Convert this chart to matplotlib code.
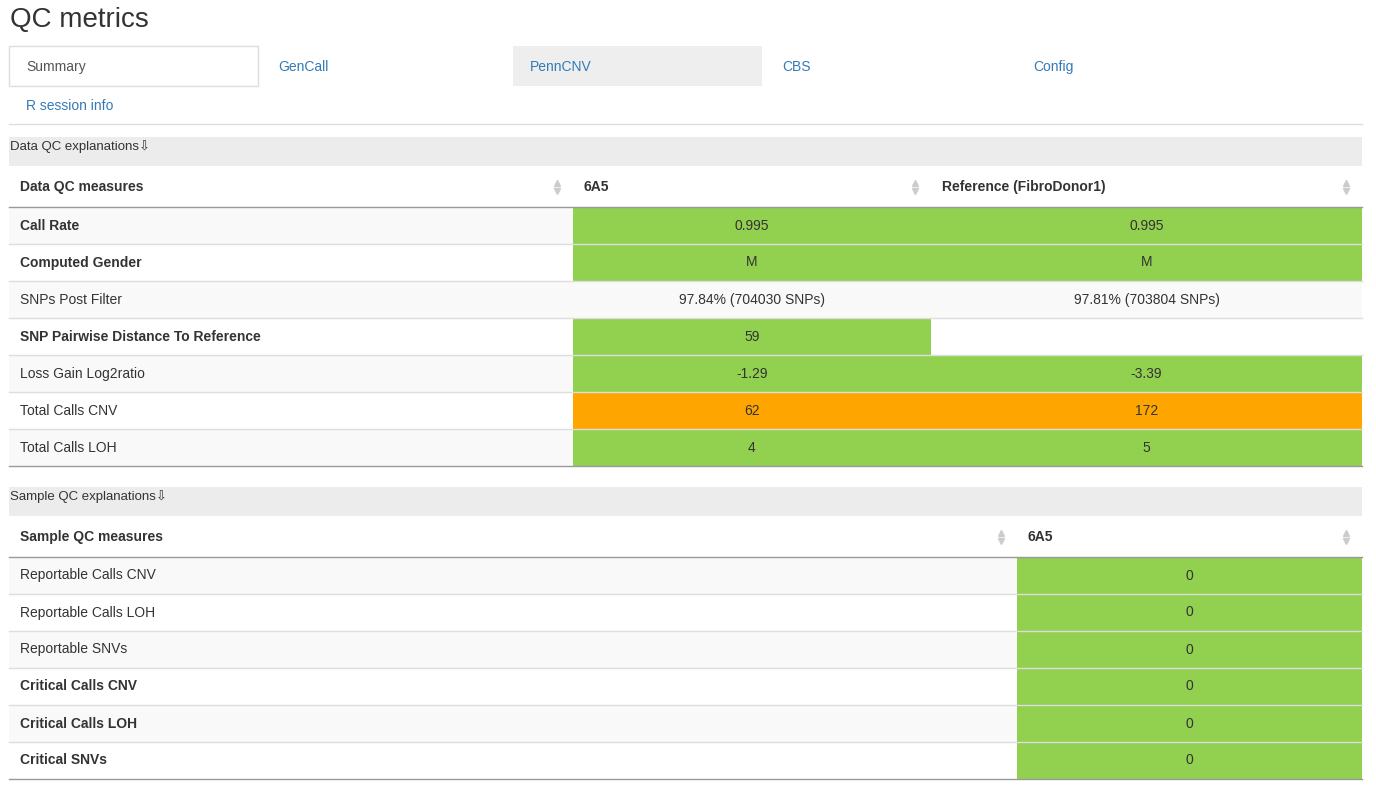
import matplotlib.pyplot as plt
from matplotlib.patches import Rectangle

plt.rcParams['font.family'] = ['Liberation Sans', 'DejaVu Sans']

tabs = ["Summary", "GenCall", "PennCNV", "CBS", "Config"]

data_cols = ["Data QC measures", "6A5", "Reference (FibroDonor1)"]
data_rows = ["Call Rate", "Computed Gender", "SNPs Post Filter",
             "SNP Pairwise Distance To Reference", "Loss Gain Log2ratio",
             "Total Calls CNV", "Total Calls LOH"]
data_bold = [True, True, False, True, False, False, False]
data_sample = ["0.995", "M", "97.84% (704030 SNPs)", "59", "-1.29", "62", "4"]
data_ref = ["0.995", "M", "97.81% (703804 SNPs)", "", "-3.39", "172", "5"]
data_sample_col = ["g", "g", "", "g", "g", "o", "g"]
data_ref_col = ["g", "g", "", "", "g", "o", "g"]

sample_cols = ["Sample QC measures", "6A5"]
sample_rows = ["Reportable Calls CNV", "Reportable Calls LOH", "Reportable SNVs",
               "Critical Calls CNV", "Critical Calls LOH", "Critical SNVs"]
sample_bold = [False, False, False, True, True, True]
sample_vals = ["0", "0", "0", "0", "0", "0"]
sample_col = ["g", "g", "g", "g", "g", "g"]

fills = {"g": "#92d050", "o": "#ffa500", "": None}
TXT = "#333333"
LINK = "#337ab7"

fig = plt.figure(figsize=(13.76, 7.88), dpi=100)
ax = fig.add_axes([0, 0, 1, 1])
ax.set_xlim(0, 1376)
ax.set_ylim(788, 0)
ax.axis('off')

ax.text(10, 20, "QC metrics", fontsize=20, color=TXT, va='center')

# tabs
tab_x = [9, 261, 513, 765, 1016]
for i, t in enumerate(tabs):
    x0 = tab_x[i]
    if i == 0:
        ax.add_patch(Rectangle((x0, 46), 249, 40, fc='white', ec='#dddddd', lw=1))
    if i == 2:
        ax.add_patch(Rectangle((x0, 46), 249, 40, fc='#eeeeee', ec='none'))
    ax.text(x0 + 17, 67, t, fontsize=10, color='#555555' if i == 0 else LINK,
            va='center')
ax.text(26, 106, "R session info", fontsize=10, color=LINK, va='center')
ax.plot([9, 1362], [124, 124], color='#dddddd', lw=1)


def arrows(x, y):
    ax.plot([x], [y - 4], marker='^', ms=4, color='#cccccc', ls='none')
    ax.plot([x], [y + 4], marker='v', ms=4, color='#cccccc', ls='none')


def table(top, title, cols, col_x, col_edges, rows, bold, values, colors):
    ax.add_patch(Rectangle((9, top), 1353, 29, fc='#ececec', ec='none'))
    ax.text(10, top + 10, title, fontsize=9.5, color=TXT, va='center')
    hy = top + 50
    for j, c in enumerate(cols):
        ax.text(col_x[j], hy, c, fontsize=10, fontweight='bold', color=TXT,
                va='center')
        arrows(col_edges[j + 1] - 16, hy)
    y0 = top + 70
    ax.plot([9, 1362], [y0, y0], color='#999999', lw=1)
    rh = 37
    for i, r in enumerate(rows):
        y = y0 + i * rh
        if i % 2 == 0:
            ax.add_patch(Rectangle((9, y), 1353, rh, fc='#f9f9f9', ec='none'))
        ax.text(20, y + rh / 2, r, fontsize=10, color=TXT, va='center',
                fontweight='bold' if bold[i] else 'normal')
        for j in range(len(values)):
            xa, xb = col_edges[j + 1], col_edges[j + 2]
            f = fills[colors[j][i]]
            if f:
                ax.add_patch(Rectangle((xa, y), xb - xa, rh, fc=f, ec='none'))
            ax.text((xa + xb) / 2, y + rh / 2, values[j][i], fontsize=10,
                    color=TXT, ha='center', va='center')
        ax.plot([9, 1362], [y + rh, y + rh],
                color='#999999' if i == len(rows) - 1 else '#dddddd', lw=1)


table(137, "Data QC explanations\u21e9", data_cols, [20, 583, 942],
      [9, 573, 931, 1362], data_rows, data_bold, [data_sample, data_ref],
      [data_sample_col, data_ref_col])
table(487, "Sample QC explanations\u21e9", sample_cols, [20, 1027],
      [9, 1017, 1362], sample_rows, sample_bold, [sample_vals], [sample_col])

fig.savefig("out.png", dpi=100)
